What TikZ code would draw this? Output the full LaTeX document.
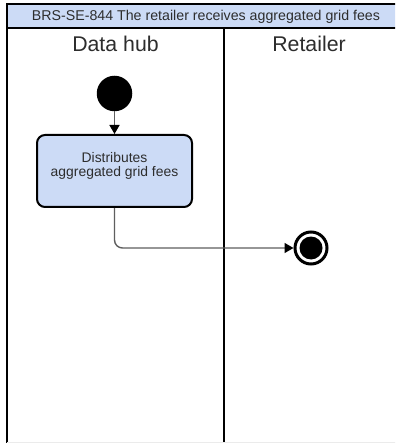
\documentclass[tikz,border=0pt]{standalone}
\usepackage{fontspec}
\setmainfont{Liberation Sans}
\usetikzlibrary{arrows.meta}
\definecolor{laneblue}{RGB}{204,219,246}
\definecolor{linegray}{RGB}{95,95,95}
\definecolor{txtgray}{RGB}{45,45,45}
\begin{document}
\begin{tikzpicture}[x=1pt,y=-1pt,
  hdrtext/.style={font=\fontsize{14.2}{15}\selectfont, text=txtgray, inner sep=0, anchor=base},
  lanetitle/.style={font=\fontsize{21.3}{24}\selectfont, text=txtgray, inner sep=0, anchor=base},
  actbox/.style={draw=black, line width=2pt, fill=laneblue, rounded corners=8pt, minimum width=155pt, minimum height=72pt, inner sep=0},
  acttext/.style={font=\fontsize{13.9}{14.4}\selectfont, text=txtgray, align=center, inner sep=0, anchor=base},
  startdot/.style={circle, fill=black, minimum size=35.5pt, inner sep=0},
  endring/.style={circle, draw=black, line width=3pt, fill=white, minimum size=32pt, inner sep=0},
  enddot/.style={circle, fill=black, minimum size=23pt, inner sep=0},
  flow/.style={draw=linegray, line width=1.4pt, rounded corners=8pt, -{Triangle[length=9pt,width=10pt,color=black]}},
  border/.style={draw=black, line width=1.6pt},
  lanediv/.style={draw=black, line width=2pt}
]
\useasboundingbox (0,0) rectangle (395,443);
\clip (0,0) rectangle (395,443);
\fill[white] (0,0) rectangle (395,443);
% pool header
\fill[laneblue] (7,4) rectangle (420,28);
\draw[border] (420,4) -- (7,4) -- (7,460);
\draw[border] (7,28) -- (420,28);
\draw[lanediv] (224,28) -- (224,460);
\draw[draw=black!8, line width=1pt] (7,442.5) -- (420,442.5);
\node[hdrtext] (hdr) at (206,20.8) {BRS-SE-844 The retailer receives aggregated grid fees};
% lane titles
\node[lanetitle] (lanea) at (115.5,51.7) {Data hub};
\node[lanetitle] (laneb) at (309,51.7) {Retailer};
% nodes
\node[startdot] (start) at (114.5,93.5) {};
\node[actbox] (act) at (114.5,171) {};
\node[acttext] (acttxt) at (114.5,177) {Distributes\\aggregated grid fees};
\node[endring] (endo) at (311,248) {};
\node[enddot] (endi) at (endo.center) {};
% connectors
\draw[flow] (start.south) -- (act.north);
\draw[flow] (act.south) |- (endo.west);
\end{tikzpicture}
\end{document}
